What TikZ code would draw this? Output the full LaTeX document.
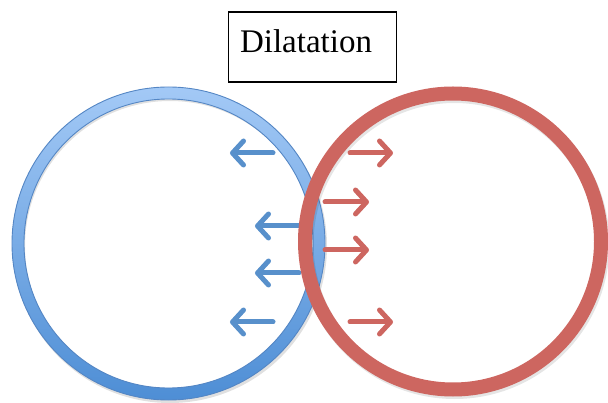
\documentclass[tikz,border=0pt]{standalone}
\usepackage{fontspec}
\setmainfont{Liberation Serif}
\usetikzlibrary{arrows.meta,calc}
\definecolor{bluetop}{RGB}{163,201,246}
\definecolor{bluebot}{RGB}{78,142,213}
\definecolor{blueedge}{RGB}{84,134,196}
\definecolor{bluearrow}{RGB}{88,144,203}
\definecolor{redring}{RGB}{205,102,96}
\tikzset{
  barrow/.style={draw=bluearrow, line width=5pt, line cap=round,
    -{Straight Barb[length=11pt,width=24pt,round]}},
  rarrow/.style={draw=redring, line width=5pt, line cap=round,
    -{Straight Barb[length=11pt,width=24pt,round]}},
  titlebox/.style={draw=black, line width=1.3pt, minimum width=168pt, minimum height=70pt, inner sep=0pt},
}
\begin{document}
\begin{tikzpicture}[x=1pt,y=-1pt]
\useasboundingbox (0,0) rectangle (608,403);
% centres
\coordinate (bc) at (168.5,243.5);
\coordinate (rc) at (453,241.5);
% soft shadows
\draw[black, opacity=0.12, line width=12pt] ($(bc)+(1.5,2.5)$) circle[radius=151pt];
% blue ring
\shade[top color=bluetop, bottom color=bluebot, even odd rule]
  (bc) circle[radius=156.5pt] (bc) circle[radius=144.5pt];
\draw[blueedge, line width=0.9pt] (bc) circle[radius=156.5pt];
\draw[blueedge, line width=0.9pt] (bc) circle[radius=144.5pt];
% blue arrows
\coordinate (b1s) at (273,153); \coordinate (b1e) at (230,153);
\coordinate (b2s) at (299,226); \coordinate (b2e) at (255,226);
\coordinate (b3s) at (299,273); \coordinate (b3e) at (255,273);
\coordinate (b4s) at (273,322); \coordinate (b4e) at (230,322);
\draw[barrow] (b1s) -- (b1e);
\draw[barrow] (b2s) -- (b2e);
\draw[barrow] (b3s) -- (b3e);
\draw[barrow] (b4s) -- (b4e);
% red ring
\draw[black, opacity=0.10, line width=14pt] ($(rc)+(1.5,2.5)$) circle[radius=148pt];
\draw[redring, line width=14pt] (rc) circle[radius=148pt];
% red arrows
\coordinate (r1s) at (350,153); \coordinate (r1e) at (393,153);
\coordinate (r2s) at (325,202); \coordinate (r2e) at (369,202);
\coordinate (r3s) at (325,250); \coordinate (r3e) at (369,250);
\coordinate (r4s) at (350,322); \coordinate (r4e) at (393,322);
\draw[rarrow] (r1s) -- (r1e);
\draw[rarrow] (r2s) -- (r2e);
\draw[rarrow] (r3s) -- (r3e);
\draw[rarrow] (r4s) -- (r4e);
% title
\node[titlebox] (title) at (312.5,47) {};
\node[anchor=base, inner sep=0pt] (titletext) at (306,53) {\fontsize{33}{40}\selectfont Dilatation};
\end{tikzpicture}
\end{document}
